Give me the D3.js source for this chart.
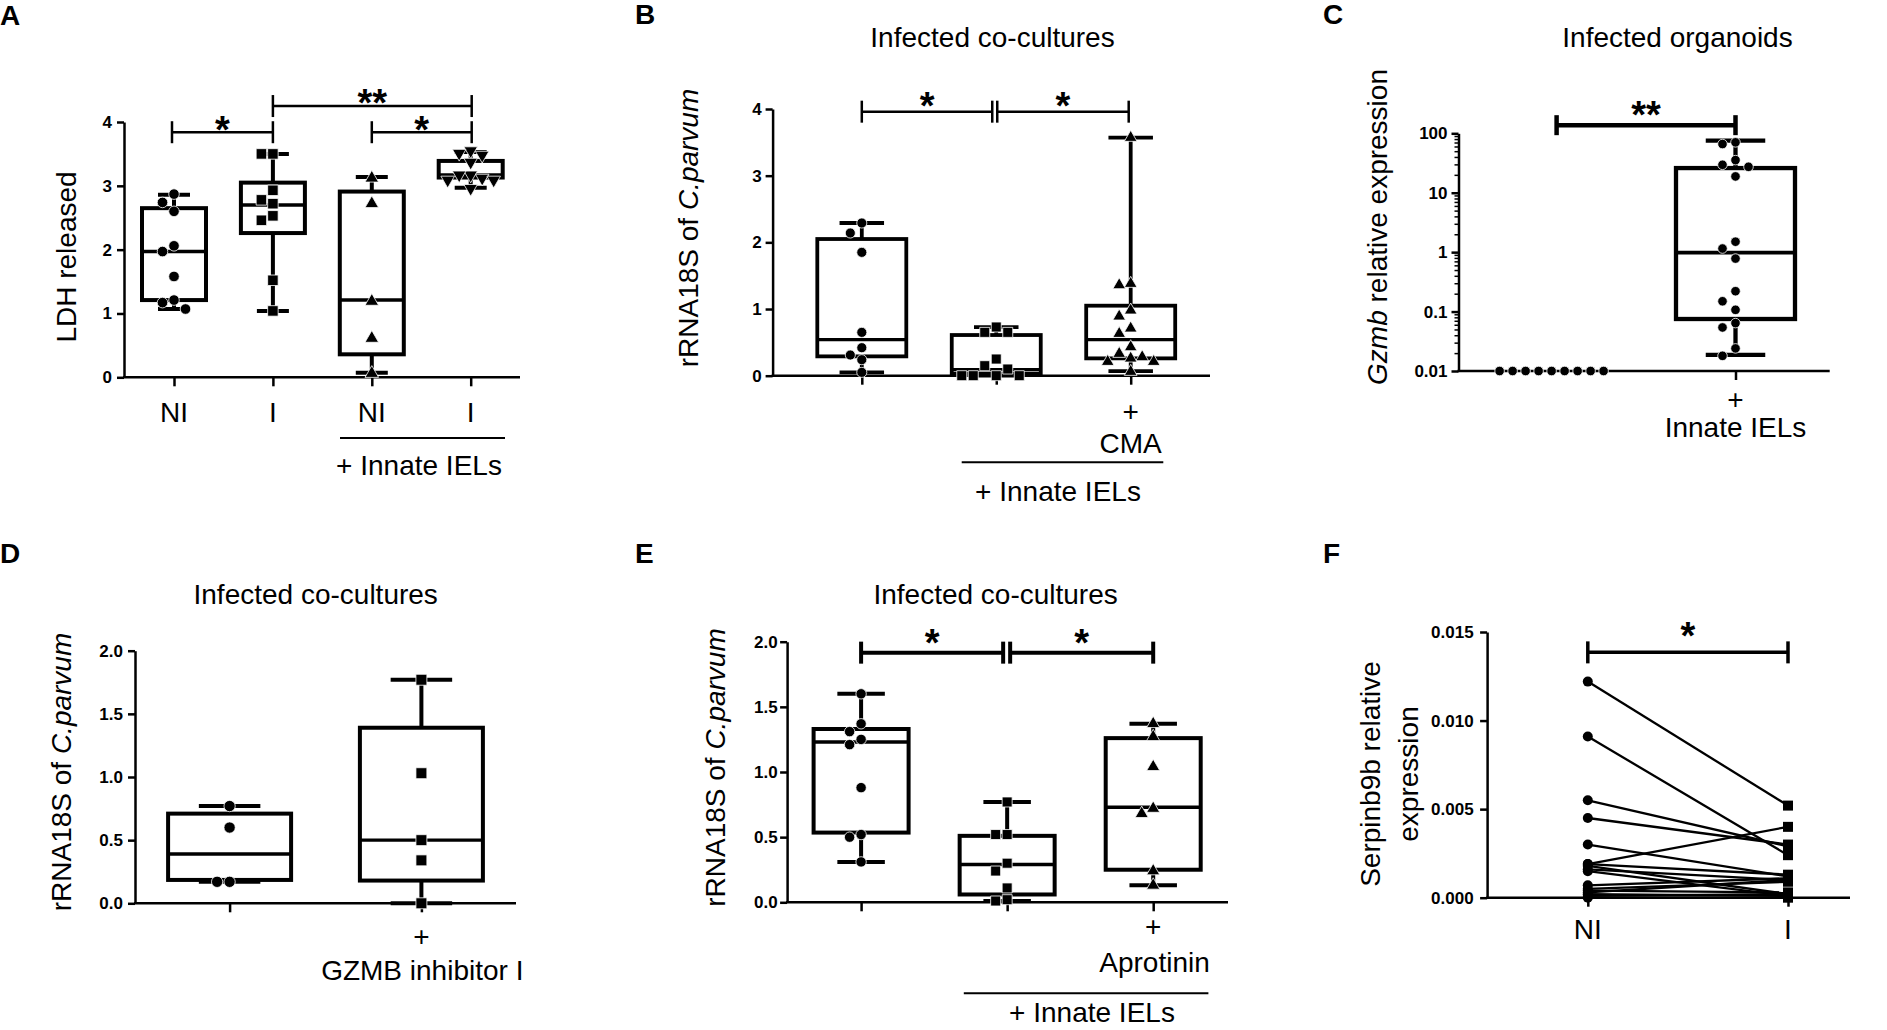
<!DOCTYPE html>
<html>
<head>
<meta charset="utf-8">
<script src="https://cdn.jsdelivr.net/npm/d3@7"></script>
<style>
  body { margin: 0; background: #fff; }
  svg { display: block; }
</style>
</head>
<body>
<svg id="fig" width="1887" height="1030"></svg>
<script>
var FONT = "'Liberation Sans', Arial, Helvetica, sans-serif";

// ---------- data ----------
// box stats are [min, q1, median, q3, max]

// A: LDH released
var aLabels = ["NI", "I", "NI", "I"];
var aPoints = [
    [2.87, 2.74, 2.60, 2.06, 1.97, 1.58, 1.21, 1.17, 1.07],
    [3.50, 3.50, 2.93, 2.78, 2.72, 2.53, 2.46, 1.52, 1.04],
    [3.12, 2.72, 1.19, 0.61, 0.06],
    [3.55, 3.51, 3.48, 3.37, 3.17, 3.17, 3.12, 3.09, 3.09, 2.96]
];
var aBoxes = [
    [1.07, 1.21, 1.97, 2.65, 2.86],
    [1.04, 2.26, 2.70, 3.05, 3.50],
    [0.07, 0.36, 1.21, 2.91, 3.14],
    [2.97, 3.13, 3.17, 3.39, 3.53]
];
var aTicks = [0, 1, 2, 3, 4];

// B: rRNA18S of C.parvum, infected co-cultures
var bPoints = [
    [2.29, 2.14, 1.85, 0.65, 0.42, 0.31, 0.24, 0.05],
    [0.73, 0.65, 0.65, 0.25, 0.15, 0.10, 0.00, 0.00, 0.00, 0.00],
    [3.57, 1.38, 1.36, 0.98, 0.89, 0.71, 0.63, 0.43, 0.33, 0.28, 0.26, 0.21, 0.21, 0.06]
];
var bBoxes = [
    [0.05, 0.29, 0.54, 2.05, 2.29],
    [0.00, 0.03, 0.09, 0.61, 0.73],
    [0.07, 0.26, 0.54, 1.05, 3.57]
];
var bTicks = [0, 1, 2, 3, 4];

// C: Gzmb relative expression, infected organoids (log axis)
var cPoints = [
    [0.01, 0.01, 0.01, 0.01, 0.01, 0.01, 0.01, 0.01, 0.01],
    [70.4, 66.0, 35.4, 29.5, 27.3, 18.8, 1.5, 1.15, 0.78, 0.22, 0.149, 0.107, 0.064, 0.054, 0.024, 0.018]
];
var cBoxes = [null, [0.0187, 0.075, 0.98, 26, 75]];
var cTicks = [0.01, 0.1, 1, 10, 100];

// D: GZMB inhibitor I
var dPoints = [
    [0.77, 0.60, 0.17, 0.17],
    [1.77, 1.03, 0.50, 0.34, 0.00]
];
var dBoxes = [
    [0.17, 0.185, 0.39, 0.71, 0.77],
    [0.00, 0.18, 0.50, 1.39, 1.77]
];
var dTicks = [0, 0.5, 1.0, 1.5, 2.0];

// E: Aprotinin
var ePoints = [
    [1.60, 1.37, 1.31, 1.25, 1.21, 0.88, 0.52, 0.50, 0.31],
    [0.77, 0.52, 0.52, 0.30, 0.24, 0.11, 0.02, 0.01],
    [1.37, 1.27, 1.04, 0.72, 0.68, 0.24, 0.13]
];
var eBoxes = [
    [0.31, 0.535, 1.23, 1.33, 1.60],
    [0.01, 0.06, 0.29, 0.51, 0.77],
    [0.13, 0.25, 0.73, 1.26, 1.37]
];
var eTicks = [0, 0.5, 1.0, 1.5, 2.0];

// F: Serpinb9b, paired NI -> I
var fLabels = ["NI", "I"];
var fNI = [0.0122, 0.0091, 0.0055, 0.0045, 0.0030, 0.0019, 0.0019, 0.0018, 0.0016, 0.0015, 0.0007, 0.0005, 0.0004, 0.0003, 0.0002, 0.0001, 0.0000];
var fI  = [0.0052, 0.0024, 0.0029, 0.0030, 0.0012, 0.0040, 0.0013, 0.0002, 0.0010, 0.0001, 0.0011, 0.0009, 0.0003, 0.0010, 0.0001, 0.0002, 0.0000];
var fTicks = [0, 0.005, 0.010, 0.015];

// ---------- helpers ----------
var svg = d3.select("#fig");

var symbolTypes = {
    circle: d3.symbolCircle,
    square: d3.symbolSquare,
    up: d3.symbolTriangle,
    down: d3.symbolTriangle
};

function text(g, x, y, s, size, anchor, weight) {
    return g.append("text")
        .attr("x", x).attr("y", y)
        .attr("text-anchor", anchor || "middle")
        .attr("font-family", FONT)
        .attr("font-size", size || 28)
        .attr("font-weight", weight || "normal")
        .attr("fill", "#000")
        .text(s);
}

// rotated y-axis title made of [string, italic?] parts
function yTitle(g, x, y, parts) {
    var t = g.append("text")
        .attr("transform", "translate(" + x + "," + y + ") rotate(-90)")
        .attr("text-anchor", "middle")
        .attr("dy", "0.35em")
        .attr("font-family", FONT)
        .attr("font-size", 28);
    parts.forEach(function (p) {
        t.append("tspan").style("font-style", p[1] ? "italic" : "normal").text(p[0]);
    });
    return t;
}

function styleAxis(sel, sw) {
    sel.attr("font-family", FONT).attr("font-size", 17).attr("font-weight", "bold");
    sel.selectAll("path, line").attr("stroke", "#000").attr("stroke-width", sw);
    sel.selectAll("text").attr("fill", "#000");
}

function makePanel(p) {
    var g = svg.append("g");
    var y = (p.log ? d3.scaleLog() : d3.scaleLinear())
        .domain(p.yDomain)
        .range([p.yBottom, p.yTop]);
    var x = d3.scalePoint()
        .domain(d3.range(p.n))
        .range(p.xRange);

    // y axis
    g.append("g")
        .attr("transform", "translate(" + p.axisX + ",0)")
        .call(d3.axisLeft(y).tickValues(p.ticks).tickFormat(p.fmt)
            .tickSize(7).tickSizeOuter(0).tickPadding(p.pad))
        .call(styleAxis, 2.5);
    if (p.minor) {
        g.append("g")
            .attr("transform", "translate(" + p.axisX + ",0)")
            .call(d3.axisLeft(y).tickValues(p.minor).tickSize(4).tickFormat(""))
            .call(styleAxis, 1.5)
            .select(".domain").remove();
    }

    // x axis
    g.append("g")
        .attr("transform", "translate(0," + p.yBottom + ")")
        .call(d3.axisBottom(x).tickValues(p.xTicks || x.domain()).tickSize(9).tickFormat(""))
        .call(styleAxis, 2.5)
        .select(".domain").remove();
    g.append("line")
        .attr("x1", p.axisX - 1).attr("x2", p.xEnd)
        .attr("y1", p.yBottom).attr("y2", p.yBottom)
        .attr("stroke", "#000").attr("stroke-width", 2.5);

    return { g: g, x: x, y: y };
}

function drawBoxes(P, boxes, w, sw) {
    var data = boxes.map(function (b, i) { return { b: b, i: i }; })
        .filter(function (d) { return d.b; });
    var bx = P.g.selectAll(null).data(data).enter().append("g")
        .attr("stroke", "#000").attr("stroke-width", sw).attr("fill", "none");
    // whiskers
    bx.append("line")
        .attr("x1", function (d) { return P.x(d.i); })
        .attr("x2", function (d) { return P.x(d.i); })
        .attr("y1", function (d) { return P.y(d.b[0]); })
        .attr("y2", function (d) { return P.y(d.b[1]); });
    bx.append("line")
        .attr("x1", function (d) { return P.x(d.i); })
        .attr("x2", function (d) { return P.x(d.i); })
        .attr("y1", function (d) { return P.y(d.b[3]); })
        .attr("y2", function (d) { return P.y(d.b[4]); });
    // caps
    [0, 4].forEach(function (k) {
        bx.append("line")
            .attr("x1", function (d) { return P.x(d.i) - w / 4; })
            .attr("x2", function (d) { return P.x(d.i) + w / 4; })
            .attr("y1", function (d) { return P.y(d.b[k]); })
            .attr("y2", function (d) { return P.y(d.b[k]); });
    });
    // box
    bx.append("rect")
        .attr("x", function (d) { return P.x(d.i) - w / 2; })
        .attr("width", w)
        .attr("y", function (d) { return P.y(d.b[3]); })
        .attr("height", function (d) { return P.y(d.b[1]) - P.y(d.b[3]); })
        .attr("fill", "#fff");
    // median
    bx.append("line")
        .attr("x1", function (d) { return P.x(d.i) - w / 2; })
        .attr("x2", function (d) { return P.x(d.i) + w / 2; })
        .attr("y1", function (d) { return P.y(d.b[2]); })
        .attr("y2", function (d) { return P.y(d.b[2]); })
        .attr("stroke-width", sw * 0.85);
}

// simple beeswarm: step sideways until the marker does not overlap
function swarm(values, y, step) {
    var placed = [];
    values.forEach(function (v) {
        var py = y(v), dx = 0;
        for (var k = 0; k < 40; k++) {
            dx = Math.ceil(k / 2) * step * (k % 2 ? -1 : 1);
            var hit = placed.some(function (p) {
                return Math.abs(p.dx - dx) < step * 0.9 && Math.abs(p.y - py) < step * 0.9;
            });
            if (!hit) break;
        }
        placed.push({ v: v, y: py, dx: dx });
    });
    return placed;
}

function drawPoints(P, groups, shapes, size, step) {
    groups.forEach(function (vals, i) {
        var shape = shapes[i];
        var cx = P.x(i);
        P.g.selectAll(null)
            .data(swarm(vals, P.y, step))
            .enter()
            .append("path")
            .attr("d", d3.symbol().type(symbolTypes[shape]).size(size[shape]))
            .attr("transform", function (d) {
                return "translate(" + (cx + d.dx) + "," + d.y + ")" + (shape === "down" ? " rotate(180)" : "");
            })
            .attr("fill", "#000")
            .attr("stroke", "#fff")
            .attr("stroke-width", 0.8);
    });
}

function sigBar(P, xa, xb, v, mark, sw, cap, starUp) {
    var yb = P.y(v);
    var g = P.g.append("g").attr("stroke", "#000").attr("stroke-width", sw);
    g.append("line").attr("x1", xa).attr("x2", xb).attr("y1", yb).attr("y2", yb);
    [xa, xb].forEach(function (xx) {
        g.append("line").attr("x1", xx).attr("x2", xx).attr("y1", yb - cap).attr("y2", yb + cap);
    });
    // asterisk glyph sits ~0.58em above its baseline
    text(P.g, (xa + xb) / 2, yb - starUp + 22, mark, 38, "middle", "bold");
}

var sizes = { circle: 88, square: 110, up: 80, down: 80 };

// ---------- A ----------
var A = makePanel({
    n: 4, axisX: 124, xEnd: 520, yBottom: 377.3, yTop: 122,
    yDomain: [0, 4], ticks: aTicks, fmt: d3.format("d"), pad: 5,
    xRange: [174, 470.7]
});
drawBoxes(A, aBoxes, 64, 4);
drawPoints(A, aPoints, ["circle", "square", "up", "down"], sizes, 11.5);
sigBar(A, A.x(0) - 2, A.x(1), 3.84, "*", 2.5, 11, 11);
sigBar(A, A.x(1), A.x(3) + 1, 4.25, "**", 2.5, 11, 12);
sigBar(A, A.x(2), A.x(3) + 1, 3.84, "*", 2.5, 11, 11);
aLabels.forEach(function (s, i) { text(A.g, A.x(i), 422, s); });
A.g.append("line").attr("x1", 340).attr("x2", 505).attr("y1", 438).attr("y2", 438)
    .attr("stroke", "#000").attr("stroke-width", 2);
text(A.g, 419, 475, "+ Innate IELs");
yTitle(A.g, 66, 257, [["LDH released", false]]);
text(A.g, 0, 25, "A", 28, "start", "bold");

// ---------- B ----------
var B = makePanel({
    n: 3, axisX: 772.6, xEnd: 1210, yBottom: 375.7, yTop: 109,
    yDomain: [0, 4], ticks: bTicks, fmt: d3.format("d"), pad: 4,
    xRange: [861.8, 1130.7]
});
drawBoxes(B, bBoxes, 89, 3.8);
drawPoints(B, bPoints, ["circle", "square", "up"], { circle: 80, square: 100, up: 70 }, 11.5);
sigBar(B, B.x(0), B.x(1) - 4, 3.96, "*", 2.5, 11, 15);
sigBar(B, B.x(1) + 1, B.x(2) - 2, 3.96, "*", 2.5, 11, 15);
text(B.g, B.x(2), 421, "+");
text(B.g, B.x(2), 453, "CMA");
B.g.append("line").attr("x1", 961.7).attr("x2", 1163.3).attr("y1", 462.3).attr("y2", 462.3)
    .attr("stroke", "#000").attr("stroke-width", 2);
text(B.g, 1058, 501, "+ Innate IELs");
text(B.g, 992.5, 47, "Infected co-cultures");
yTitle(B.g, 688, 228, [["rRNA18S of ", false], ["C.parvum", true]]);
text(B.g, 635, 24, "B", 28, "start", "bold");

// ---------- C ----------
var cMinor = [];
[0.01, 0.1, 1, 10].forEach(function (dec) {
    d3.range(2, 10).forEach(function (m) { cMinor.push(dec * m); });
});
var C = makePanel({
    n: 2, axisX: 1458.5, xEnd: 1829.7, yBottom: 371, yTop: 133.3,
    log: true, yDomain: [0.01, 100], ticks: cTicks, minor: cMinor,
    fmt: function (d) { return String(d); }, pad: 4,
    xRange: [1551.6, 1735.5], xTicks: [1]
});
drawBoxes(C, cBoxes, 119, 4.3);
drawPoints(C, cPoints, ["circle", "circle"], { circle: 72 }, 13);
sigBar(C, C.x(0) + 5, C.x(1), 137, "**", 4.5, 10, 19);
text(C.g, C.x(1), 409, "+");
text(C.g, C.x(1), 437, "Innate IELs");
text(C.g, 1677.5, 47, "Infected organoids");
yTitle(C.g, 1377.5, 227, [["Gzmb", true], [" relative expression", false]]);
text(C.g, 1323, 24, "C", 28, "start", "bold");

// ---------- D ----------
var D = makePanel({
    n: 2, axisX: 135, xEnd: 516, yBottom: 903.3, yTop: 650.7,
    yDomain: [0, 2], ticks: dTicks, fmt: d3.format(".1f"), pad: 5,
    xRange: [229.6, 421.4]
});
drawBoxes(D, dBoxes, 123, 4);
drawPoints(D, dPoints, ["circle", "square"], { circle: 100, square: 120 }, 12.5);
text(D.g, D.x(1), 946, "+");
text(D.g, 422.3, 980, "GZMB inhibitor I");
text(D.g, 315.7, 604, "Infected co-cultures");
yTitle(D.g, 61, 772, [["rRNA18S of ", false], ["C.parvum", true]]);
text(D.g, 0, 563, "D", 28, "start", "bold");

// ---------- E ----------
var E = makePanel({
    n: 3, axisX: 787.1, xEnd: 1228, yBottom: 902.3, yTop: 641.7,
    yDomain: [0, 2], ticks: eTicks, fmt: d3.format(".1f"), pad: 2.5,
    xRange: [861.1, 1153.2]
});
drawBoxes(E, eBoxes, 95, 4);
drawPoints(E, ePoints, ["circle", "square", "up"], { circle: 85, square: 100, up: 75 }, 11.5);
sigBar(E, E.x(0), E.x(1) - 4, 1.916, "*", 4, 11, 18.5);
sigBar(E, E.x(1) + 3, E.x(2), 1.916, "*", 4, 11, 18.5);
text(E.g, E.x(2), 936, "+");
text(E.g, 1154.5, 972, "Aprotinin");
E.g.append("line").attr("x1", 963.8).attr("x2", 1208.4).attr("y1", 993.3).attr("y2", 993.3)
    .attr("stroke", "#000").attr("stroke-width", 2);
text(E.g, 1092, 1022, "+ Innate IELs");
text(E.g, 995.6, 604, "Infected co-cultures");
yTitle(E.g, 715, 767.5, [["rRNA18S of ", false], ["C.parvum", true]]);
text(E.g, 635, 563, "E", 28, "start", "bold");

// ---------- F ----------
var F = makePanel({
    n: 2, axisX: 1487.1, xEnd: 1850, yBottom: 897.7, yTop: 632,
    yDomain: [0, 0.015], ticks: fTicks, fmt: d3.format(".3f"), pad: 6.5,
    xRange: [1587.8, 1788]
});
var pairs = d3.zip(fNI, fI);
F.g.selectAll(null).data(pairs).enter().append("line")
    .attr("x1", F.x(0)).attr("x2", F.x(1))
    .attr("y1", function (d) { return F.y(d[0]); })
    .attr("y2", function (d) { return F.y(d[1]); })
    .attr("stroke", "#000").attr("stroke-width", 2.3);
F.g.selectAll(null).data(fNI).enter().append("circle")
    .attr("cx", F.x(0)).attr("cy", function (d) { return F.y(d); })
    .attr("r", 5).attr("fill", "#000");
F.g.selectAll(null).data(fI).enter().append("path")
    .attr("d", d3.symbol().type(d3.symbolSquare).size(100))
    .attr("transform", function (d) { return "translate(" + F.x(1) + "," + F.y(d) + ")"; })
    .attr("fill", "#000");
sigBar(F, F.x(0), F.x(1), 0.01385, "*", 3.5, 11, 25);
fLabels.forEach(function (s, i) { text(F.g, F.x(i), 939, s); });
F.g.append("text")
    .attr("transform", "translate(1370,774) rotate(-90)")
    .attr("text-anchor", "middle").attr("dy", "0.35em")
    .attr("font-family", FONT).attr("font-size", 28)
    .text("Serpinb9b relative");
F.g.append("text")
    .attr("transform", "translate(1408,774) rotate(-90)")
    .attr("text-anchor", "middle").attr("dy", "0.35em")
    .attr("font-family", FONT).attr("font-size", 28)
    .text("expression");
text(F.g, 1323, 563, "F", 28, "start", "bold");
</script>
</body>
</html>
